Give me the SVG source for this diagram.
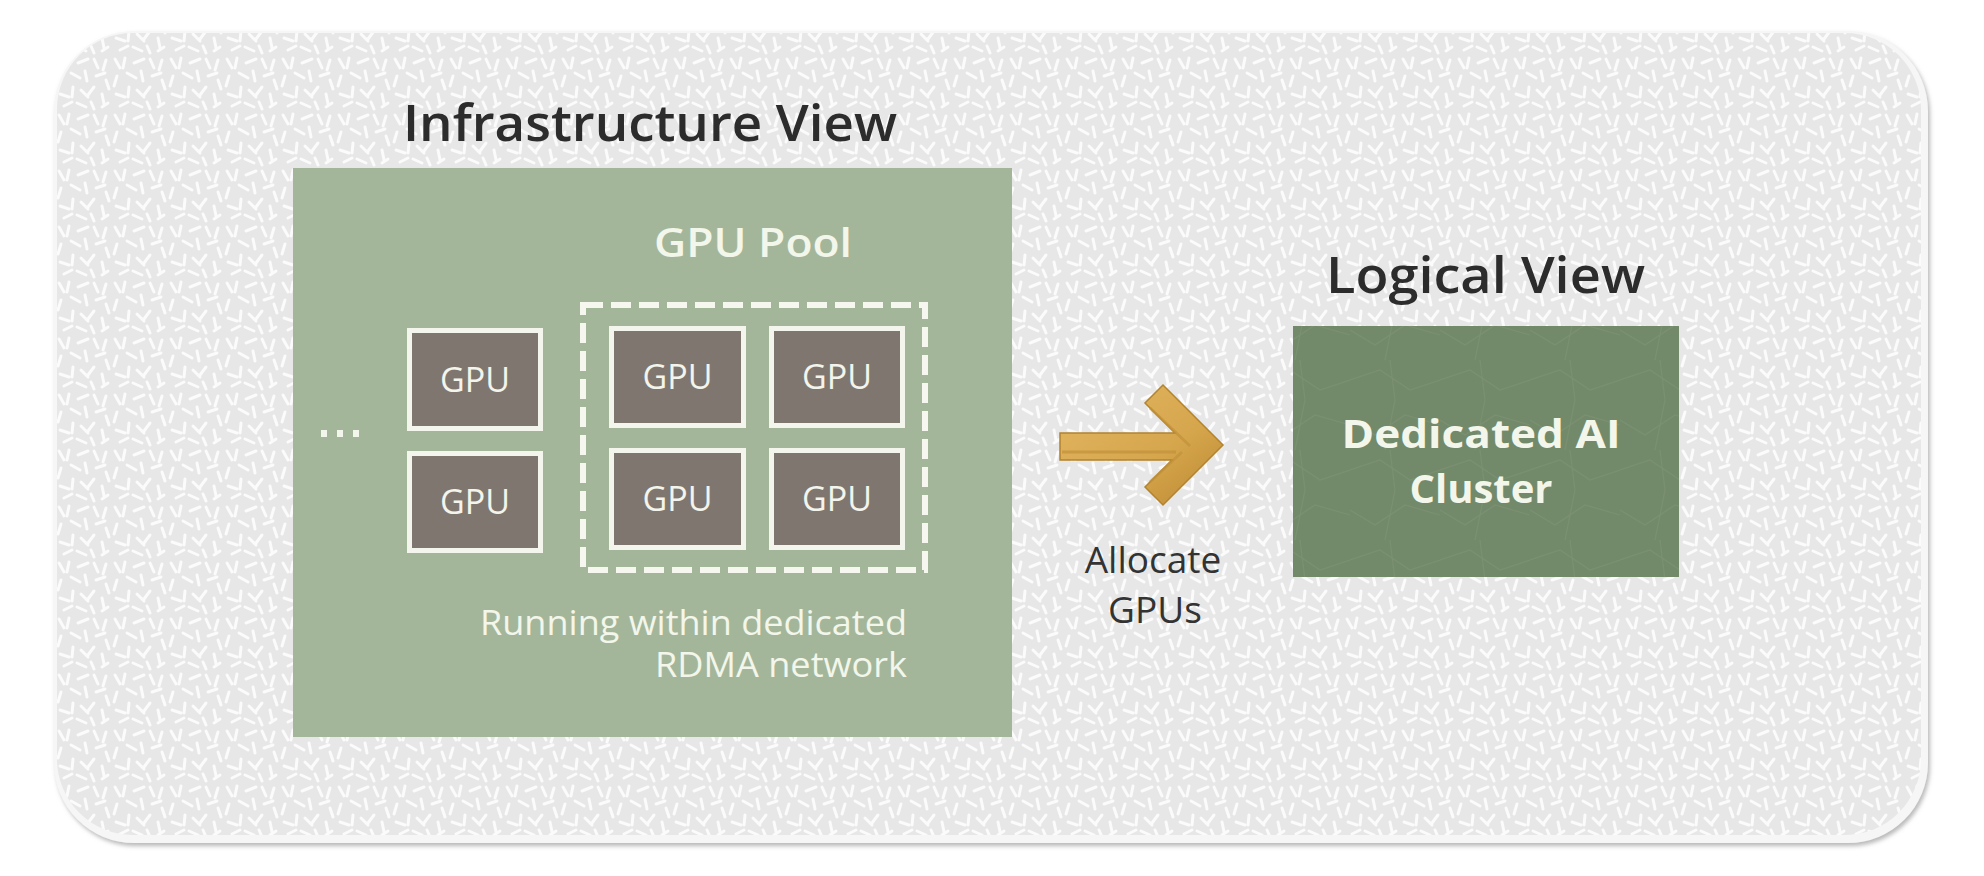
<svg xmlns="http://www.w3.org/2000/svg" width="1984" height="876" viewBox="0 0 1984 876">
  <defs>
    <style>
      .title { font-family: "Open Sans", "Noto Sans", "Liberation Sans", sans-serif; font-size: 51px; font-weight: 600; fill: #2c2c2c; }
      .wtxt { font-family: "Open Sans", "Noto Sans", "Liberation Sans", sans-serif; fill: #f3f6ea; }
      .dtxt { font-family: "Open Sans", "Noto Sans", "Liberation Sans", sans-serif; fill: #333333; font-size: 37px; }
      .gpu rect { fill: #7f776f; stroke: #f4f6ee; stroke-width: 5; }
      .gpu text { font-family: "Open Sans", "Noto Sans", "Liberation Sans", sans-serif; font-size: 34px; fill: #f3f4ec; text-anchor: middle; }
    </style>
    <pattern id="tex" width="56" height="56" patternUnits="userSpaceOnUse">
      <rect width="56" height="56" fill="#e7e7e7"/>
      <path d="M3 3l5 9 M13 2l-2 10 M22 7l10 -4 M38 3l4 9 M50 4l-3 10 M5 20l-3 10 M15 17l9 5 M29 15l2 10 M40 20l9 -3 M50 24l3 9 M4 38l9 3 M17 31l-1 10 M25 34l7 7 M38 31l-6 8 M46 38l2 10 M8 50l8 -4 M21 47l9 4 M35 46l3 7 M46 51l6 -4" stroke="#fbfbfb" stroke-width="3" stroke-linecap="round" fill="none"/>
    </pattern>
    <pattern id="tex2" width="90" height="90" patternUnits="userSpaceOnUse">
      <path d="M0 20 L30 10 L60 30 L90 20 M0 60 L25 75 L55 55 L90 65 M40 0 L45 40 L35 90" stroke="#7e9575" stroke-width="1.2" fill="none" opacity="0.6"/>
    </pattern>
    <linearGradient id="gold" x1="0" y1="0" x2="1" y2="1">
      <stop offset="0" stop-color="#e2b762"/>
      <stop offset="0.6" stop-color="#d6a64d"/>
      <stop offset="1" stop-color="#b9872f"/>
    </linearGradient>
    <filter id="shadow" x="-5%" y="-5%" width="110%" height="115%">
      <feDropShadow dx="2" dy="3" stdDeviation="2" flood-color="#8a8a8a" flood-opacity="0.6"/>
    </filter>
  </defs>

  <rect width="1984" height="876" fill="#ffffff"/>

  <g id="background-panel">
    <rect x="54" y="31" width="1874" height="812" rx="80" ry="80" fill="#f6f6f6" filter="url(#shadow)"/>
    <rect x="57" y="33" width="1864" height="802" rx="76" ry="76" fill="url(#tex)"/>
  </g>

  <g id="infrastructure-view">
    <text class="title" x="403" y="141" textLength="494" lengthAdjust="spacingAndGlyphs">Infrastructure View</text>
    <rect x="293" y="168" width="719" height="569" fill="#a4b69a"/>
    <text class="wtxt" x="654" y="257" font-size="40" font-weight="600" textLength="198" lengthAdjust="spacingAndGlyphs">GPU Pool</text>
    <g id="ellipsis" fill="#f3f6ea">
      <rect x="321" y="430" width="6" height="7"/>
      <rect x="337" y="430" width="6" height="7"/>
      <rect x="353" y="430" width="6" height="7"/>
    </g>
    <text class="wtxt" x="907" y="635" font-size="34" text-anchor="end" textLength="427" lengthAdjust="spacingAndGlyphs">Running within dedicated</text>
    <text class="wtxt" x="907" y="677" font-size="34" text-anchor="end" textLength="252" lengthAdjust="spacingAndGlyphs">RDMA network</text>
  </g>

  <g id="gpu-1" class="gpu">
    <rect x="409.5" y="330.5" width="131" height="98"/>
    <text x="475" y="392">GPU</text>
  </g>
  <g id="gpu-2" class="gpu">
    <rect x="409.5" y="453.5" width="131" height="97"/>
    <text x="475" y="514">GPU</text>
  </g>

  <g id="rdma-group">
    <rect x="583" y="305" width="342" height="265" fill="none" stroke="#f6f8ef" stroke-width="6" stroke-dasharray="20 8"/>
  </g>
  <g id="gpu-3" class="gpu">
    <rect x="611.5" y="328.5" width="132" height="97"/>
    <text x="677.5" y="389">GPU</text>
  </g>
  <g id="gpu-4" class="gpu">
    <rect x="771.5" y="328.5" width="131" height="97"/>
    <text x="837" y="389">GPU</text>
  </g>
  <g id="gpu-5" class="gpu">
    <rect x="611.5" y="450.5" width="132" height="97"/>
    <text x="677.5" y="511">GPU</text>
  </g>
  <g id="gpu-6" class="gpu">
    <rect x="771.5" y="450.5" width="131" height="97"/>
    <text x="837" y="511">GPU</text>
  </g>

  <g id="logical-view">
    <text class="title" x="1326" y="293" textLength="319" lengthAdjust="spacingAndGlyphs">Logical View</text>
    <rect x="1293" y="326" width="386" height="251" fill="#72896a"/>
    <rect x="1293" y="326" width="386" height="251" fill="url(#tex2)"/>
    <text class="wtxt" x="1481" y="448" font-size="40" font-weight="700" text-anchor="middle" textLength="279" lengthAdjust="spacingAndGlyphs">Dedicated AI</text>
    <text class="wtxt" x="1481" y="503" font-size="40" font-weight="700" text-anchor="middle">Cluster</text>
  </g>

  <g id="connectors">
    <polygon points="1060,433 1175,433 1145,403 1163,385 1223,445 1163,505 1145,487 1172,460 1060,460" fill="url(#gold)" stroke="#b3832e" stroke-width="1.5" stroke-linejoin="miter"/>
    <path d="M1062,452 L1176,452 M1150,408 L1190,446 M1150,482 L1182,452" stroke="#c2913a" stroke-width="3" fill="none" opacity="0.7"/>
    <text class="dtxt" x="1153" y="573" text-anchor="middle">Allocate</text>
    <text class="dtxt" x="1155" y="623" text-anchor="middle">GPUs</text>
  </g>
</svg>
